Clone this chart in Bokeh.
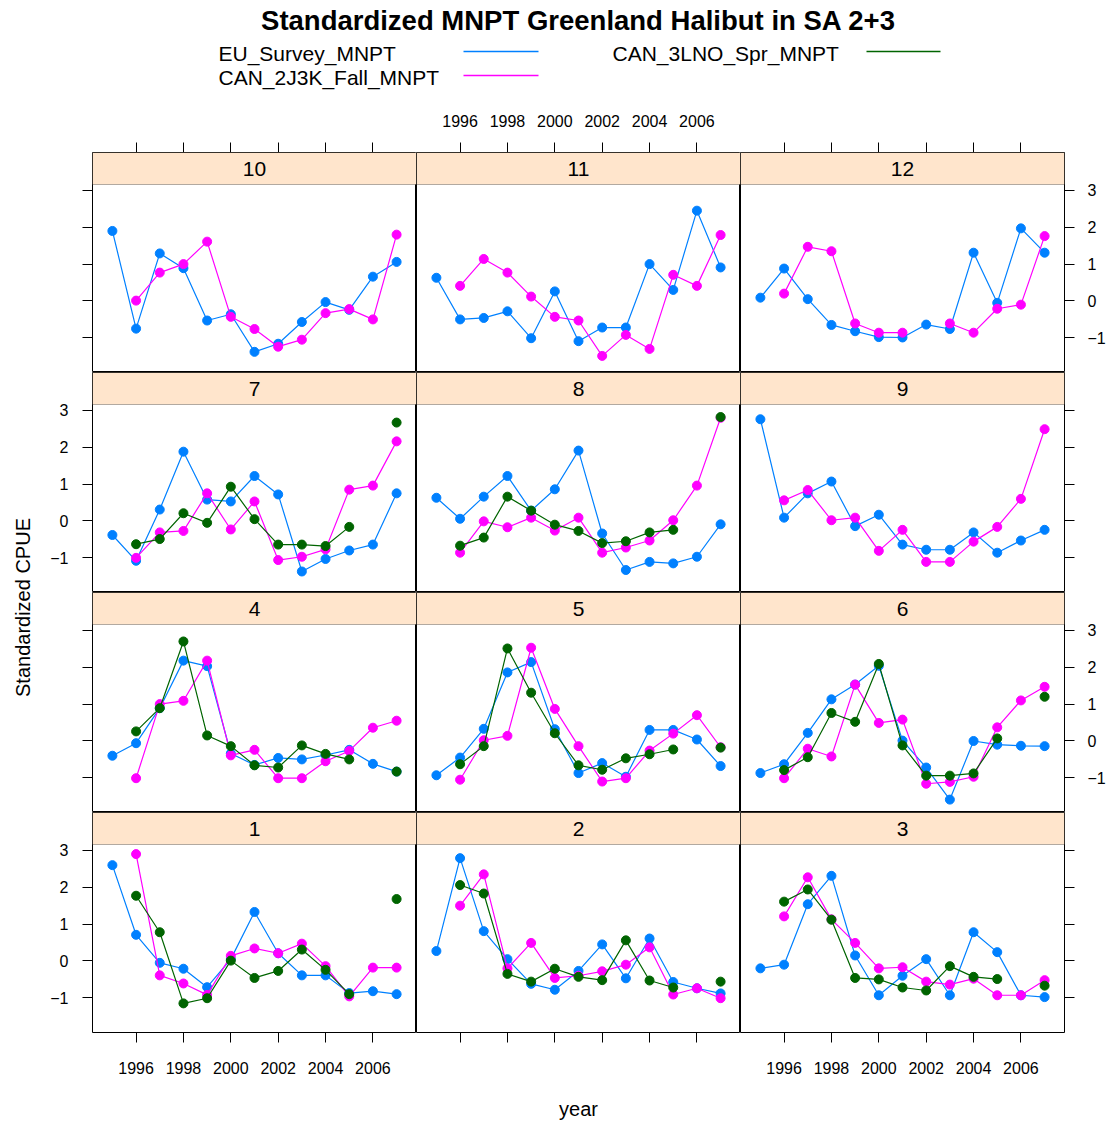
import math
import numpy as np
from bokeh.plotting import figure
from bokeh.layouts import row, column
from bokeh.models import Range1d, LinearAxis, FixedTicker, BoxAnnotation, Label
from bokeh.core.properties import value
from bokeh.embed import file_html
from bokeh.resources import INLINE

nan = float("nan")

TITLE = "Standardized MNPT Greenland Halibut in SA 2+3"
SERIES = ["EU_Survey_MNPT", "CAN_2J3K_Fall_MNPT", "CAN_3LNO_Spr_MNPT"]
COLORS = ["#0080FF", "#FF00FF", "#006400"]
YEARS = list(range(1995, 2008))
YEAR_TICKS = [1996, 1998, 2000, 2002, 2004, 2006]
CPUE_TICKS = [-1, 0, 1, 2, 3]

# panel numbers, laid out top row first
PANEL_ROWS = [[10, 11, 12], [7, 8, 9], [4, 5, 6], [1, 2, 3]]

# standardized CPUE by panel, years 1995-2007
EU_SURVEY = {
    1: [2.60, 0.71, -0.05, -0.21, -0.71, 0.05, 1.33, 0.21, -0.39, -0.39, -0.87, -0.82, -0.90],
    2: [0.27, 2.79, 0.81, 0.05, -0.62, -0.78, -0.27, 0.45, -0.47, 0.61, -0.57, -0.74, -0.88],
    3: [-0.20, -0.10, 1.54, 2.31, 0.15, -0.93, -0.40, 0.05, -0.93, 0.78, 0.24, -0.93, -0.98],
    4: [-0.40, -0.06, 0.89, 2.18, 2.03, -0.34, -0.65, -0.46, -0.50, -0.38, -0.24, -0.62, -0.83],
    5: [-0.93, -0.45, 0.33, 1.86, 2.14, 0.32, -0.87, -0.60, -0.97, 0.30, 0.30, 0.04, -0.68],
    6: [-0.87, -0.63, 0.22, 1.13, 1.53, 2.04, 0.01, -0.72, -1.59, 0.00, -0.10, -0.13, -0.14],
    7: [-0.38, -1.08, 0.31, 1.88, 0.58, 0.53, 1.22, 0.72, -1.37, -1.03, -0.80, -0.64, 0.75],
    8: [0.63, 0.06, 0.66, 1.22, 0.28, 0.86, 1.91, -0.34, -1.33, -1.11, -1.15, -0.97, -0.09],
    9: [2.76, 0.09, 0.75, 1.07, -0.14, 0.17, -0.64, -0.78, -0.78, -0.31, -0.86, -0.53, -0.24],
    10: [1.90, -0.75, 1.29, 0.89, -0.53, -0.36, -1.38, -1.16, -0.57, -0.03, -0.24, 0.66, 1.06],
    11: [0.63, -0.50, -0.46, -0.28, -1.01, 0.26, -1.09, -0.72, -0.72, 1.00, 0.30, 2.45, 0.91],
    12: [0.09, 0.88, 0.05, -0.65, -0.82, -0.98, -0.99, -0.64, -0.76, 1.31, -0.05, 1.97, 1.31],
}

CAN_2J3K_FALL = {
    1: [nan, 2.90, -0.39, -0.61, -0.92, 0.14, 0.34, 0.21, 0.47, -0.14, -0.96, -0.18, -0.18],
    2: [nan, 1.50, 2.35, -0.20, 0.49, -0.46, -0.40, -0.28, -0.10, 0.37, -0.91, -0.74, -1.01],
    3: [nan, 1.21, 2.27, 1.13, 0.49, -0.20, -0.17, -0.56, -0.64, -0.48, -0.93, -0.93, -0.52],
    4: [nan, -1.01, 1.00, 1.09, 2.18, -0.39, -0.24, -1.01, -1.01, -0.55, -0.27, 0.36, 0.55],
    5: [nan, -1.05, 0.02, 0.14, 2.53, 0.87, -0.14, -1.10, -1.01, -0.26, 0.20, 0.70, -0.17],
    6: [nan, -1.01, -0.21, -0.42, 1.53, 0.49, 0.58, -1.16, -1.11, -0.97, 0.37, 1.10, 1.47],
    7: [nan, -1.00, -0.31, -0.27, 0.75, -0.23, 0.53, -1.06, -0.97, -0.77, 0.85, 0.96, 2.16],
    8: [nan, -0.86, -0.01, -0.17, 0.09, -0.26, 0.09, -0.86, -0.72, -0.53, 0.02, 0.96, 2.80],
    9: [nan, 0.56, 0.84, 0.02, 0.09, -0.81, -0.24, -1.11, -1.11, -0.56, -0.16, 0.60, 2.49],
    10: [nan, 0.01, 0.77, 1.00, 1.61, -0.43, -0.76, -1.24, -1.05, -0.33, -0.22, -0.50, 1.80],
    11: [nan, 0.41, 1.14, 0.77, 0.12, -0.43, -0.53, -1.49, -0.92, -1.30, 0.71, 0.41, 1.79],
    12: [nan, 0.20, 1.47, 1.35, -0.61, -0.86, -0.86, nan, -0.61, -0.86, -0.21, -0.10, 1.76],
}

CAN_3LNO_SPR = {
    1: [nan, 1.77, 0.78, -1.15, -1.01, 0.01, -0.46, -0.27, 0.31, -0.24, -0.90, nan, 1.68],
    2: [nan, 2.06, 1.83, -0.35, -0.56, -0.21, -0.43, -0.52, 0.56, -0.53, -0.72, nan, -0.56],
    3: [nan, 1.61, 1.94, 1.12, -0.46, -0.50, -0.72, -0.80, -0.14, -0.43, -0.49, nan, -0.67],
    4: [nan, 0.26, 0.89, 2.70, 0.15, -0.14, -0.66, -0.72, -0.12, -0.35, -0.50, nan, -0.83],
    5: [nan, -0.63, -0.14, 2.51, 1.31, 0.21, -0.66, -0.78, -0.47, -0.36, -0.23, nan, -0.18],
    6: [nan, -0.79, -0.44, 0.76, 0.52, 2.09, -0.12, -0.94, -0.94, -0.88, 0.07, nan, 1.20],
    7: [nan, -0.63, -0.49, 0.21, -0.05, 0.93, 0.05, -0.64, -0.64, -0.68, -0.16, nan, 2.67],
    8: [nan, -0.67, -0.45, 0.66, 0.28, -0.10, -0.27, -0.60, -0.55, -0.31, -0.24, nan, 2.82],
}

FONT = "Liberation Sans"

# shared panel scales (7% padding around the data range)
X_LO, X_HI = 1994.16, 2007.84
Y_LO, Y_HI = -1.94, 3.16
PLOT_H, STRIP_H, PANEL_W = 188, 32, 324
Y_STRIP = Y_HI + STRIP_H / PLOT_H * (Y_HI - Y_LO)

HEADER_H = 104
TOP_B, BOTTOM_B, LEFT_B, RIGHT_B = 48, 52, 52, 47
YLAB_W = 40
FOOTER_H = 41
PAGE_W = 1111


def style_axis(ax, ticks, show_labels, standoff):
    ax.ticker = FixedTicker(ticks=ticks)
    ax.major_tick_in = 0
    ax.major_tick_out = 10
    ax.minor_tick_line_color = None
    ax.axis_line_color = None
    ax.major_tick_line_color = "black"
    ax.major_label_text_font = FONT
    ax.major_label_text_font_size = "16px"
    ax.major_label_text_color = "black"
    ax.major_label_standoff = standoff
    if not show_labels:
        ax.major_label_overrides = {t: "" for t in ticks}


def make_panel(num, r, c):
    left = LEFT_B if c == 0 else 0
    right = RIGHT_B if c == 2 else 0
    top = TOP_B if r == 0 else 0
    bottom = BOTTOM_B if r == 3 else 0
    p = figure(width=PANEL_W + left + right, height=PLOT_H + STRIP_H + top + bottom,
               x_range=Range1d(X_LO, X_HI), y_range=Range1d(Y_LO, Y_STRIP),
               x_axis_location=None, y_axis_location=None,
               toolbar_location=None, output_backend="svg",
               min_border=0, min_border_left=left, min_border_right=right,
               min_border_top=top, min_border_bottom=bottom)
    p.grid.visible = False
    p.outline_line_color = "black"
    p.outline_line_width = 1
    p.background_fill_color = "white"
    p.border_fill_color = "white"

    if c == 0:
        ax = LinearAxis()
        style_axis(ax, CPUE_TICKS, r % 2 == 1, 14)
        p.add_layout(ax, "left")
    if c == 2:
        ax = LinearAxis()
        style_axis(ax, CPUE_TICKS, r % 2 == 0, 13)
        p.add_layout(ax, "right")
    if r == 0:
        ax = LinearAxis()
        style_axis(ax, YEAR_TICKS, c == 1, 16)
        p.add_layout(ax, "above")
    if r == 3:
        ax = LinearAxis()
        style_axis(ax, YEAR_TICKS, c != 1, 19)
        p.add_layout(ax, "below")

    # strip with the panel number
    p.add_layout(BoxAnnotation(bottom=Y_HI, fill_color="#FFE5CC", fill_alpha=1.0,
                               line_color="black", line_width=1))
    p.add_layout(Label(x=(X_LO + X_HI) / 2, y=(Y_HI + Y_STRIP) / 2, text=str(num),
                       text_align="center", text_baseline="middle",
                       text_font=FONT, text_font_size="21px", text_color="black"))

    for data, color in zip([EU_SURVEY, CAN_2J3K_FALL, CAN_3LNO_SPR], COLORS):
        if num not in data:
            continue
        vals = np.array(data[num], dtype=float)
        p.line(YEARS, vals, line_color=color, line_width=1.2)
        p.scatter(YEARS, vals, marker="circle", size=9, fill_color=color,
                  line_color=color)
    return p


def blank_fig(w, h, x0, x1, y0, y1):
    p = figure(width=w, height=h, x_range=Range1d(x0, x1), y_range=Range1d(y0, y1),
               x_axis_location=None, y_axis_location=None,
               toolbar_location=None, output_backend="svg", min_border=0)
    p.grid.visible = False
    p.outline_line_color = None
    return p


# title and key
header = blank_fig(PAGE_W, HEADER_H, 0, PAGE_W, HEADER_H, 0)
header.text(x=[578], y=[20], text=[TITLE], text_font=value(FONT),
            text_font_style="bold", text_font_size="27.5px",
            text_align="center", text_baseline="middle", text_color="black")
key_text_x = [218, 218, 612]
key_text_y = [53, 77, 53]
key_line_x0 = [463, 463, 866]
key_line_x1 = [538, 538, 940]
for i in range(len(SERIES)):
    header.text(x=[key_text_x[i]], y=[key_text_y[i]], text=[SERIES[i]],
                text_font=value(FONT), text_font_size="21px", text_align="left",
                text_baseline="middle", text_color="black")
    header.segment(x0=[key_line_x0[i]], y0=[key_text_y[i] - 2],
                   x1=[key_line_x1[i]], y1=[key_text_y[i] - 2],
                   line_color=COLORS[i], line_width=1.5)

# panel grid
rows = []
for r, nums in enumerate(PANEL_ROWS):
    rows.append(row(*[make_panel(n, r, c) for c, n in enumerate(nums)]))
grid = column(*rows)

grid_h = TOP_B + 4 * (PLOT_H + STRIP_H) + BOTTOM_B
ylab = blank_fig(YLAB_W, grid_h, 0, YLAB_W, HEADER_H + grid_h, HEADER_H)
ylab.text(x=[22], y=[607], text=["Standardized CPUE"], angle=math.pi / 2,
          text_font=value(FONT), text_font_size="20px", text_align="center",
          text_baseline="middle", text_color="black")

footer_top = HEADER_H + grid_h
footer = blank_fig(PAGE_W, FOOTER_H, 0, PAGE_W, footer_top + FOOTER_H, footer_top)
footer.text(x=[578], y=[1108], text=["year"], text_font=value(FONT),
            text_font_size="20px", text_align="center", text_baseline="middle",
            text_color="black")

page = column(header, row(ylab, grid), footer)

open("out.html", "w").write(file_html(page, INLINE))
